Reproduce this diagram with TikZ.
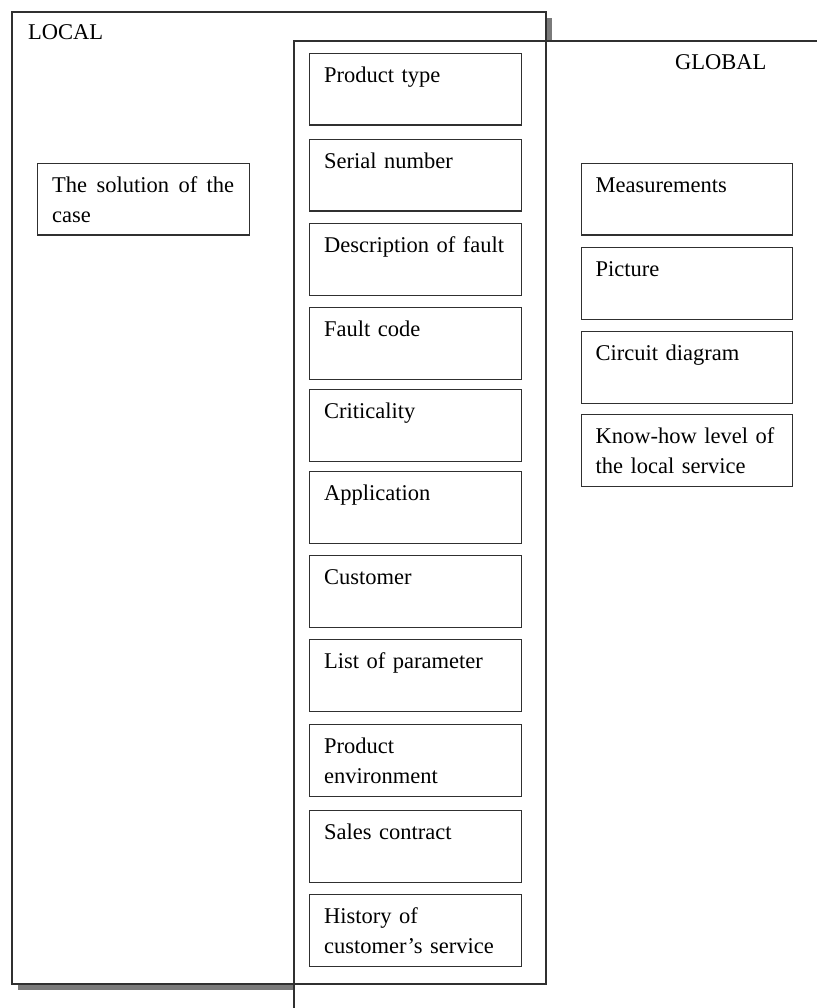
\documentclass[tikz,border=0pt]{standalone}
\usepackage{fontspec}
\setmainfont{Liberation Serif}
\usetikzlibrary{positioning}
\definecolor{ink}{HTML}{303030}
\definecolor{shadowgray}{HTML}{7A7A7A}
\begin{document}
\begin{tikzpicture}[x=1pt,y=-1pt,
  frame/.style={draw=ink,line width=1.2pt},
  cell/.style={draw=ink,line width=1.1pt,rectangle,inner sep=0pt,
    anchor=north west,minimum width=211.5pt,minimum height=71.5pt},
  celltext/.style={anchor=north west,inner sep=0pt,text width=182pt,
    align=left,font=\fontsize{22.5}{29.5}\selectfont},
  label/.style={anchor=base west,inner sep=0pt,
    font=\fontsize{22.5}{29.5}\selectfont}]
\useasboundingbox (0,0) rectangle (817,1008);

% LOCAL frame with its drop shadow
\fill[shadowgray] (18,18) rectangle (552,990);
\fill[white] (12,12) rectangle (546,984);
% GLOBAL area, open to the right and bottom
\fill[white] (294,41) rectangle (817,1008);
\draw[frame] (12,12) rectangle (546,984);
\coordinate (gb) at (294,1008);
\coordinate (gc) at (294,41);
\coordinate (gr) at (817,41);
\draw[frame] (gb) -- (gc) -- (gr);

\node[label] (local) at (28,40) {LOCAL};
\node[label] (global) at (675,70) {GLOBAL};

% helper: box with text in its upper left corner
\newcommand\infobox[5][]{%
  \node[cell] (#2) at (#3,#4) {};
  \node[celltext,#1] (#2t) at ([xshift=15pt,yshift=-9.5pt]#2.north west)
    {\rule{0pt}{20pt}#5};}

% local item
\infobox[align=justify]{sol}{37}{163}{The solution of the case}

% shared items in the middle column
\infobox{ptype}{309}{53}{Product type}
\infobox{serial}{309}{139}{Serial number}
\infobox{desc}{309}{223}{Description of fault}
\infobox{fcode}{309}{307}{Fault code}
\infobox{crit}{309}{389}{Criticality}
\infobox{appl}{309}{471}{Application}
\infobox{cust}{309}{555}{Customer}
\infobox{param}{309}{639}{List of parameter}
\infobox{penv}{309}{724}{Product\\environment}
\infobox{sales}{309}{810}{Sales contract}
\infobox{hist}{309}{894}{History of\\customer’s service}

% global items
\infobox{meas}{580.5}{163}{Measurements}
\infobox{pict}{580.5}{247}{Picture}
\infobox{circ}{580.5}{331}{Circuit diagram}
\infobox{know}{580.5}{414}{Know-how level of\\the local service}
\end{tikzpicture}
\end{document}
